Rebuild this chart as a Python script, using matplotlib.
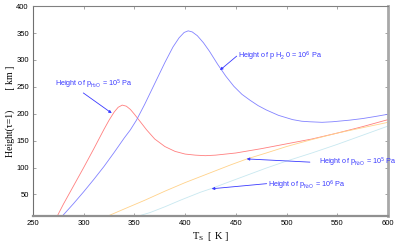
import matplotlib
matplotlib.use("Agg")
import matplotlib.pyplot as plt

# Surface temperature [K] vs height of tau=1 [km]
red_T = [274, 280, 290, 300, 310, 320, 325, 330, 334, 338, 342, 346, 350, 355,
         362, 370, 380, 390, 400, 410, 420, 430, 450, 475, 500, 525, 550, 575, 600]
red_h = [10, 32, 66, 100, 135, 171, 188, 203, 212, 216, 214, 208, 199, 187,
         170, 153, 139, 130, 125, 123, 122, 123, 127, 135, 144, 153, 164, 176, 189]

blue_T = [279, 290, 300, 310, 320, 330, 340, 346, 352, 360, 370, 380, 388,
          394, 399, 403, 407, 412, 418, 424, 432, 440, 448, 456, 464, 472,
          480, 492, 506, 515, 523, 535, 545, 562, 575, 588, 600]
blue_h = [10, 33, 55, 78, 102, 128, 155, 170, 188, 217, 256, 295, 324,
          341, 351, 354, 352, 345, 332, 316, 292, 270, 251, 236, 225, 215,
          207, 197, 189, 186, 185, 184, 185, 188, 191, 195, 199]

orange_T = [324, 340, 360, 380, 400, 415, 430, 445, 461, 480, 500, 525, 550, 575, 600]
orange_h = [10, 23, 39, 56, 72, 83, 94, 105, 116, 127, 139, 152, 164, 174, 184]

cyan_T = [354, 365, 380, 395, 415, 426, 440, 460, 480, 500, 525, 550, 575, 600]
cyan_h = [10, 16, 27, 39, 54, 61, 71, 85, 99, 112, 127, 143, 160, 177]

x_ticks = [250, 300, 350, 400, 450, 500, 550, 600]
y_ticks = [50, 100, 150, 200, 250, 300, 350, 400]

ANN_COLOR = "#3a3aff"

fig = plt.figure(figsize=(4.0, 2.44), dpi=100)
ax = fig.add_axes([0.0825, 0.115, 0.8875, 0.86])

ax.plot(red_T, red_h, color="#ff7f7f", lw=0.6)
ax.plot(blue_T, blue_h, color="#8282ff", lw=0.6)
ax.plot(orange_T, orange_h, color="#ffd28a", lw=0.6)
ax.plot(cyan_T, cyan_h, color="#c8e8f0", lw=0.6)

ax.set_xlim(250, 600)
ax.set_ylim(10, 400)
ax.set_xticks(x_ticks)
ax.set_yticks(y_ticks)

ax.tick_params(direction="in", length=2.5, width=0.5, color="#808080",
               top=True, right=True, labelsize=5.5, pad=3)
for lab in ax.get_xticklabels() + ax.get_yticklabels():
    lab.set_family("Liberation Sans")

for side, lw, col in [("left", 0.8, "#707070"), ("top", 0.8, "#808080"),
                      ("right", 2.0, "#a8a8a8"), ("bottom", 1.6, "#909090")]:
    ax.spines[side].set_linewidth(lw)
    ax.spines[side].set_color(col)

ax.set_xlabel(r"T$_{\mathregular{S}}$  [ K ]", family="Liberation Serif",
              fontsize=7.5, labelpad=2)
ax.set_ylabel("Height(\u03c4=1)        [ km ]", family="Liberation Serif",
              fontsize=7, labelpad=1)

arrow = dict(arrowstyle="-|>", color=ANN_COLOR, lw=0.6, mutation_scale=4,
             shrinkA=0, shrinkB=0)
txt = dict(color=ANN_COLOR, fontsize=5.2, family="Liberation Sans",
           va="center", ha="left")

ax.text(271.7, 254, r"Height of p$_{\mathregular{H_2O}}$ = 10$^{5}$ Pa", **txt)
ax.annotate("", xy=(327.6, 201), xytext=(299.6, 238.6), arrowprops=arrow)

ax.text(452, 307.5, r"Height of p H$_{\mathregular{2}}$ 0 = 10$^{6}$ Pa", **txt)
ax.annotate("", xy=(434.4, 281), xytext=(450.8, 307), arrowprops=arrow)

ax.text(532.3, 109, r"Height of p$_{\mathregular{N_2O}}$ = 10$^{5}$ Pa", **txt)
ax.annotate("", xy=(460.7, 116), xytext=(523, 110), arrowprops=arrow)

ax.text(481.7, 66.7, r"Height of p$_{\mathregular{N_2O}}$ = 10$^{6}$ Pa", **txt)
ax.annotate("", xy=(426.2, 60.5), xytext=(480.4, 70), arrowprops=arrow)

fig.savefig("out.png", dpi=100, facecolor="white")
